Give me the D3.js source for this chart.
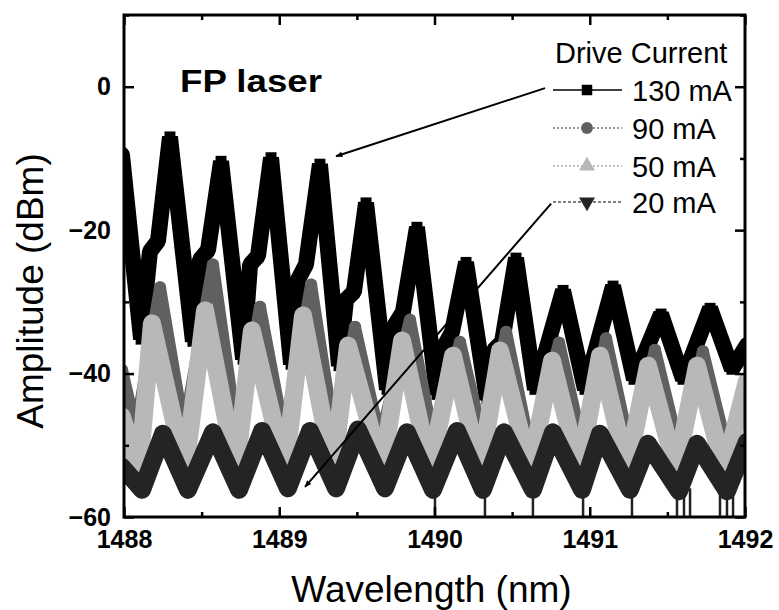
<!DOCTYPE html>
<html>
<head>
<meta charset="utf-8">
<script src="https://cdn.jsdelivr.net/npm/d3@7"></script>
<style>
  html, body { margin: 0; padding: 0; background: #fff; }
  svg { display: block; font-family: "Liberation Sans", Arial, sans-serif; }
</style>
</head>
<body>
<svg id="chart"></svg>
<script>
// spectra: [wavelength (nm), amplitude (dBm)] at peaks / valleys
const s130 = [
  [1487.987, -9.5], [1488.110, -35.2], [1488.167, -23.0], [1488.219, -21.5], [1488.296, -7.0],
  [1488.444, -35.5], [1488.490, -24.1], [1488.541, -22.8], [1488.625, -10.4],
  [1488.767, -38.0], [1488.812, -24.8], [1488.863, -23.6], [1488.947, -9.9],
  [1489.076, -38.7], [1489.121, -26.9], [1489.172, -24.8], [1489.262, -10.8],
  [1489.385, -38.9], [1489.430, -29.7], [1489.481, -28.6], [1489.559, -16.2],
  [1489.694, -42.2], [1489.746, -33.2], [1489.797, -31.4], [1489.887, -19.6],
  [1490.016, -42.9], [1490.068, -36.0], [1490.113, -34.2], [1490.203, -24.5],
  [1490.338, -43.6], [1490.383, -36.7], [1490.435, -35.6], [1490.525, -23.9],
  [1490.647, -42.2], [1490.828, -28.4], [1490.969, -42.2], [1491.150, -27.8],
  [1491.285, -40.8], [1491.459, -31.7], [1491.601, -40.8], [1491.775, -30.9],
  [1491.916, -39.4], [1492.013, -36.0]
];
const s90 = [
  [1487.987, -39.5], [1488.077, -47.8], [1488.232, -28.0], [1488.386, -47.8], [1488.573, -24.8],
  [1488.728, -48.5], [1488.876, -30.7], [1489.031, -48.5], [1489.205, -27.6],
  [1489.359, -49.2], [1489.488, -33.5], [1489.649, -49.2], [1489.842, -32.5],
  [1489.997, -49.9], [1490.164, -35.6], [1490.319, -49.9], [1490.461, -34.2],
  [1490.615, -50.4], [1490.802, -35.7], [1490.957, -50.4], [1491.105, -35.1],
  [1491.259, -50.6], [1491.420, -36.7], [1491.575, -50.6], [1491.729, -36.9],
  [1491.884, -50.6], [1492.013, -42.3]
];
const s50 = [
  [1487.987, -46.0], [1488.097, -53.5], [1488.180, -33.0], [1488.393, -53.5], [1488.522, -31.2],
  [1488.721, -53.5], [1488.824, -34.0], [1489.037, -53.5], [1489.153, -31.9],
  [1489.346, -53.5], [1489.443, -36.1], [1489.662, -53.5], [1489.791, -35.4],
  [1489.971, -53.5], [1490.119, -37.5], [1490.293, -53.5], [1490.422, -36.8],
  [1490.615, -53.5], [1490.757, -38.2], [1490.931, -53.5], [1491.066, -37.5],
  [1491.240, -53.5], [1491.375, -38.9], [1491.556, -53.5], [1491.691, -38.9],
  [1491.865, -53.5], [1492.013, -41.0]
];
const s20 = [
  [1487.987, -53.0], [1488.116, -56.2], [1488.251, -48.4], [1488.412, -56.2], [1488.573, -48.2],
  [1488.741, -56.2], [1488.889, -48.0], [1489.056, -56.0], [1489.198, -48.0],
  [1489.366, -56.0], [1489.507, -47.8], [1489.681, -56.0], [1489.823, -48.2],
  [1489.990, -56.2], [1490.145, -48.0], [1490.312, -56.2], [1490.448, -48.2],
  [1490.634, -56.2], [1490.763, -48.2], [1490.950, -56.2], [1491.066, -48.4],
  [1491.259, -56.2], [1491.375, -49.8], [1491.575, -56.4], [1491.691, -49.8],
  [1491.884, -56.4], [1492.013, -49.5]
];
// deep dips of the 20 mA trace that fall below the axis
const dips20 = [1490.003, 1490.325, 1490.634, 1490.957, 1491.272, 1491.562, 1491.607,
  1491.646, 1491.839, 1491.884, 1491.923];

const seriesLabels = ["130 mA", "90 mA", "50 mA", "20 mA"];
const xMajor = [1488, 1489, 1490, 1491, 1492];
const xMinor = [1488.5, 1489.5, 1490.5, 1491.5];
const yMajor = [-60, -40, -20, 0];
const yMinor = [-50, -30, -10, 10];
// arrows: [from, to] in data units
const arrows = [
  [[1490.712, -0.2], [1489.366, -9.7]],
  [[1490.751, -16.3], [1489.166, -55.8]]
];

const w = 779;
const h = 610;
const pLeft = 124, pRight = 745, pTop = 15, pBottom = 517;

const svg = d3.select("#chart")
  .attr("width", w)
  .attr("height", h);

svg.append("rect").attr("width", w).attr("height", h).attr("fill", "#fff");

const xScale = d3.scaleLinear().domain([1488, 1492]).range([pLeft, pRight]);
const yScale = d3.scaleLinear().domain([-60, 10]).range([pBottom, pTop]);

const defs = svg.append("defs");
defs.append("clipPath").attr("id", "plot")
  .append("rect")
  .attr("x", pLeft).attr("y", pTop)
  .attr("width", pRight - pLeft).attr("height", pBottom - pTop);

const styles = [
  { data: s130, color: "#000", width: 16, join: "bevel", sym: d3.symbolSquare, size: 120 },
  { data: s90, color: "#606060", width: 12, join: "round", sym: d3.symbolCircle, size: 120 },
  { data: s50, color: "#b8b8b8", width: 18, join: "round", sym: d3.symbolTriangle, size: 110 },
  { data: s20, color: "#242424", width: 18, join: "round", sym: d3.symbolTriangle, size: 110, flip: true }
];

const line = d3.line()
  .x((d) => xScale(d[0]))
  .y((d) => yScale(d[1]));

const plot = svg.append("g").attr("clip-path", "url(#plot)");

// dips drawn first, underneath the bands
plot.selectAll("line.dip")
  .data(dips20)
  .enter()
  .append("line")
  .attr("x1", (d) => xScale(d))
  .attr("x2", (d) => xScale(d))
  .attr("y1", yScale(-56))
  .attr("y2", yScale(-62))
  .attr("stroke", "#222")
  .attr("stroke-width", 2.5);

styles.forEach((s) => {
  plot.append("path")
    .datum(s.data)
    .attr("d", line)
    .attr("fill", "none")
    .attr("stroke", s.color)
    .attr("stroke-width", s.width)
    .attr("stroke-linejoin", s.join)
    .attr("stroke-linecap", "round");
  plot.selectAll(null)
    .data(s.data)
    .enter()
    .append("path")
    .attr("d", d3.symbol(s.sym, s.size))
    .attr("transform", (d) => "translate(" + xScale(d[0]) + "," + yScale(d[1]) + ")" + (s.flip ? " rotate(180)" : ""))
    .attr("fill", s.color);
});

// axes, ticks pointing inward
const tickFont = (g) => g.selectAll("text")
  .attr("font-size", 25)
  .attr("font-weight", "bold")
  .attr("fill", "#000")
  .attr("font-family", "'Liberation Sans', Arial, sans-serif");
const clean = (g) => {
  g.select(".domain").remove();
  g.selectAll("line").attr("stroke", "#000").attr("stroke-width", 2.5);
};

svg.append("g")
  .attr("transform", "translate(0," + pBottom + ")")
  .call(d3.axisBottom(xScale).tickValues(xMajor).tickFormat(d3.format("d")).tickSize(-10).tickPadding(13))
  .call(clean).call(tickFont);
svg.append("g")
  .attr("transform", "translate(0," + pBottom + ")")
  .call(d3.axisBottom(xScale).tickValues(xMinor).tickFormat("").tickSize(-5))
  .call(clean);
svg.append("g")
  .attr("transform", "translate(0," + pTop + ")")
  .call(d3.axisTop(xScale).tickValues(xMajor).tickFormat("").tickSize(-10))
  .call(clean);
svg.append("g")
  .attr("transform", "translate(0," + pTop + ")")
  .call(d3.axisTop(xScale).tickValues(xMinor).tickFormat("").tickSize(-5))
  .call(clean);

svg.append("g")
  .attr("transform", "translate(" + pLeft + ",0)")
  .call(d3.axisLeft(yScale).tickValues(yMajor).tickFormat(d3.format("d")).tickSize(-10).tickPadding(13))
  .call(clean).call(tickFont);
svg.append("g")
  .attr("transform", "translate(" + pLeft + ",0)")
  .call(d3.axisLeft(yScale).tickValues(yMinor).tickFormat("").tickSize(-5))
  .call(clean);
svg.append("g")
  .attr("transform", "translate(" + pRight + ",0)")
  .call(d3.axisRight(yScale).tickValues(yMajor).tickFormat("").tickSize(-10))
  .call(clean);
svg.append("g")
  .attr("transform", "translate(" + pRight + ",0)")
  .call(d3.axisRight(yScale).tickValues(yMinor).tickFormat("").tickSize(-5))
  .call(clean);

// frame
svg.append("rect")
  .attr("x", pLeft).attr("y", pTop)
  .attr("width", pRight - pLeft).attr("height", pBottom - pTop)
  .attr("fill", "none")
  .attr("stroke", "#000")
  .attr("stroke-width", 3);

// axis titles
svg.append("text")
  .attr("x", (pLeft + pRight) / 2 - 3)
  .attr("y", 602)
  .attr("text-anchor", "middle")
  .attr("font-size", 37)
  .text("Wavelength (nm)");
const yTitleMid = (pBottom + pTop) / 2 + 25;
svg.append("text")
  .attr("transform", "translate(43," + yTitleMid + ") rotate(-90)")
  .attr("text-anchor", "middle")
  .attr("font-size", 37)
  .text("Amplitude (dBm)");

// in-plot label
svg.append("text")
  .attr("x", 180)
  .attr("y", 92)
  .attr("font-size", 31)
  .attr("font-weight", "bold")
  .attr("textLength", 142)
  .attr("lengthAdjust", "spacingAndGlyphs")
  .text("FP laser");

// legend
const legend = svg.append("g");
legend.append("text")
  .attr("x", 555).attr("y", 63)
  .attr("font-size", 29)
  .text("Drive Current");

const legendY = [90, 128, 166, 202];
const legendDash = [null, "2,2", "2,2", "3,2"];
const legendLine = ["#000", "#777", "#aaa", "#555"];
seriesLabels.forEach((lab, i) => {
  const y = legendY[i];
  const g = legend.append("g");
  g.append("line")
    .attr("x1", 553).attr("x2", 622)
    .attr("y1", y).attr("y2", y)
    .attr("stroke", legendLine[i])
    .attr("stroke-width", 1.3)
    .attr("stroke-dasharray", legendDash[i]);
  g.append("path")
    .attr("d", d3.symbol(styles[i].sym, 110))
    .attr("transform", "translate(587," + y + ")" + (styles[i].flip ? " rotate(180)" : ""))
    .attr("fill", styles[i].color);
  g.append("text")
    .attr("x", 632).attr("y", y + 11)
    .attr("font-size", 29)
    .text(lab);
});

// arrows
defs.append("marker")
  .attr("id", "head")
  .attr("viewBox", "0 0 10 10")
  .attr("refX", 9).attr("refY", 5)
  .attr("markerWidth", 9).attr("markerHeight", 7)
  .attr("markerUnits", "userSpaceOnUse")
  .attr("orient", "auto")
  .append("path")
  .attr("d", "M0,1 L10,5 L0,9 Z")
  .attr("fill", "#000");

svg.selectAll("line.arrow")
  .data(arrows)
  .enter()
  .append("line")
  .attr("x1", (d) => xScale(d[0][0]))
  .attr("y1", (d) => yScale(d[0][1]))
  .attr("x2", (d) => xScale(d[1][0]))
  .attr("y2", (d) => yScale(d[1][1]))
  .attr("stroke", "#000")
  .attr("stroke-width", 2)
  .attr("marker-end", "url(#head)");
</script>
</body>
</html>
